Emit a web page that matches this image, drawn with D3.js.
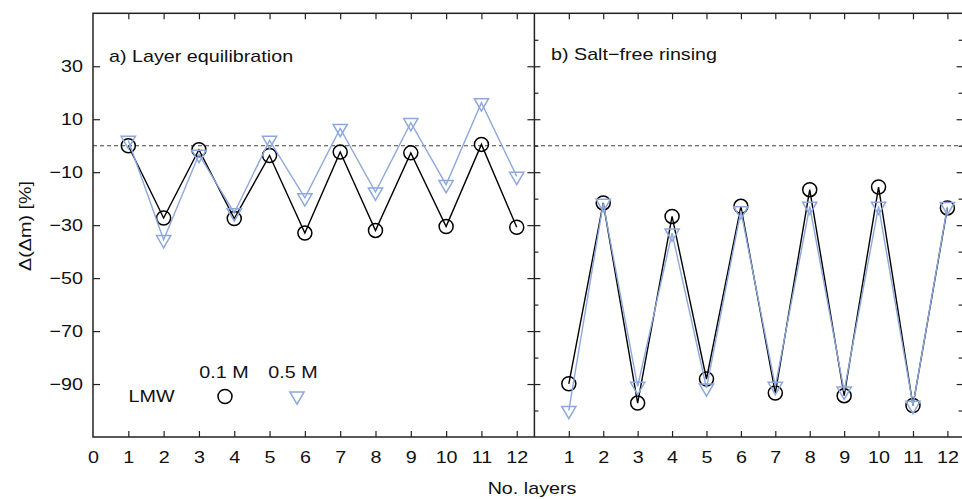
<!DOCTYPE html>
<html>
<head>
<meta charset="utf-8">
<script src="https://cdn.jsdelivr.net/npm/d3@7"></script>
<style>
  html, body { margin: 0; padding: 0; background: #fff; }
  svg { display: block; }
  text { font-family: "Liberation Sans", Arial, Helvetica, sans-serif; fill: #111; }
</style>
</head>
<body>
<svg id="chart" width="962" height="499"></svg>
<script>
// Layer number on the x axis of both panels
const layers = [1, 2, 3, 4, 5, 6, 7, 8, 9, 10, 11, 12];

// a) Layer equilibration, change of mass step in %
const equil01M = [0, -27.3, -1.5, -27.5, -3.7, -33, -2.4, -32, -2.7, -30.5, 0.5, -30.8];
const equil05M = [2, -35.5, -3.3, -25.4, 2, -19.7, 6.5, -17.5, 8.7, -14.7, 16.2, -11.6];

// b) Salt-free rinsing, change of mass step in %
const rinse01M = [-89.9, -21.6, -97.2, -26.7, -88.1, -22.9, -93.4, -16.6, -94.4, -15.6, -98.1, -23.5];
const rinse05M = [-100, -21.8, -90.9, -33, -91.5, -24.6, -90.9, -22.9, -92.7, -22.9, -98.1, -23];

// Axis ticks and labels
const xTicksLeft = [0, 1, 2, 3, 4, 5, 6, 7, 8, 9, 10, 11, 12];
const xTicksRight = [1, 2, 3, 4, 5, 6, 7, 8, 9, 10, 11, 12];
const yMajor = [30, 10, -10, -30, -50, -70, -90];
const yMinor = [40, 20, 0, -20, -40, -60, -80, -100];

const panelTitles = ["a) Layer equilibration", "b) Salt\u2212free rinsing"];
const seriesNames = ["0.1 M", "0.5 M"];

const BLACK = "#000";
const BLUE = "#8ea8dc";
const FS = 17;       // font size
const SX = 1.16;     // horizontal text stretch

const svg = d3.select("#chart");

const plotTop = 13.3, plotBottom = 437, xl0 = 93, xDiv = 534.4, xr1 = 964.6;
const xL = d3.scaleLinear().domain([0, 12.5]).range([xl0, xDiv]);
const xR = d3.scaleLinear().domain([0, 12.5]).range([xDiv, xr1]);
const y = d3.scaleLinear().domain([-110, 50]).range([plotBottom, plotTop]);

function stretchText(sel) {
  sel.each(function () {
    const t = d3.select(this);
    const x = +t.attr("x") || 0;
    t.attr("x", x / SX).attr("transform", `scale(${SX},1)`);
  });
}

function styleAxis(g) {
  g.select(".domain").remove();
  g.selectAll(".tick line").attr("stroke", "#222").attr("stroke-width", 1.2);
  g.selectAll(".tick text").attr("font-size", FS).attr("fill", "#111")
    .attr("font-family", "Liberation Sans, Arial, sans-serif");
}

// zero reference line
svg.append("line")
  .attr("x1", xl0).attr("x2", xr1)
  .attr("y1", y(0)).attr("y2", y(0))
  .attr("stroke", "#444").attr("stroke-width", 1.1)
  .attr("stroke-dasharray", "4,3");

// ---- axes, left panel ----
const axL = svg.append("g").attr("transform", `translate(0,${plotBottom})`)
  .call(d3.axisBottom(xL).tickValues(xTicksLeft).tickSizeInner(-6).tickSizeOuter(0).tickPadding(14));
styleAxis(axL);
axL.selectAll(".tick").filter(d => d === 0).select("line").remove();
stretchText(axL.selectAll(".tick text"));

const axLt = svg.append("g").attr("transform", `translate(0,${plotTop})`)
  .call(d3.axisTop(xL).tickValues(layers).tickSizeInner(-6).tickSizeOuter(0).tickFormat(""));
styleAxis(axLt);

const ayL = svg.append("g").attr("transform", `translate(${xl0},0)`)
  .call(d3.axisLeft(y).tickValues(yMajor).tickSizeInner(-7).tickSizeOuter(0).tickPadding(10)
    .tickFormat(d => d3.format("")(d).replace("-", "\u2212")));
styleAxis(ayL);
stretchText(ayL.selectAll(".tick text"));

const ayLr = svg.append("g").attr("transform", `translate(${xDiv},0)`)
  .call(d3.axisRight(y).tickValues(yMajor).tickSizeInner(-7).tickSizeOuter(0).tickFormat(""));
styleAxis(ayLr);

// ---- axes, right panel ----
const axR = svg.append("g").attr("transform", `translate(0,${plotBottom})`)
  .call(d3.axisBottom(xR).tickValues(xTicksRight).tickSizeInner(-6).tickSizeOuter(0).tickPadding(14));
styleAxis(axR);
stretchText(axR.selectAll(".tick text"));

const axRt = svg.append("g").attr("transform", `translate(0,${plotTop})`)
  .call(d3.axisTop(xR).tickValues(layers).tickSizeInner(-6).tickSizeOuter(0).tickFormat(""));
styleAxis(axRt);

[[yMajor, 6], [yMinor, 4]].forEach(([vals, len]) => {
  const a = svg.append("g").attr("transform", `translate(${xDiv},0)`)
    .call(d3.axisLeft(y).tickValues(vals).tickSizeInner(-len).tickSizeOuter(0).tickFormat(""));
  styleAxis(a);
  const b = svg.append("g").attr("transform", `translate(${xr1},0)`)
    .call(d3.axisRight(y).tickValues(vals).tickSizeInner(-(len + 2)).tickSizeOuter(0).tickFormat(""));
  styleAxis(b);
});

// frames
svg.append("rect").attr("x", xl0).attr("y", plotTop).attr("width", xr1 - xl0).attr("height", plotBottom - plotTop)
  .attr("fill", "none").attr("stroke", "#222").attr("stroke-width", 1.5);
svg.append("line").attr("x1", xDiv).attr("x2", xDiv).attr("y1", plotTop).attr("y2", plotBottom)
  .attr("stroke", "#222").attr("stroke-width", 1.5);

// ---- data ----
const triPath = d3.symbol().type(d3.symbolTriangle).size(88)();

function drawSeries(xs, vals, color, kind) {
  const pts = layers.map((l, i) => [xs(l), y(vals[i])]);
  svg.append("path")
    .attr("d", d3.line()(pts))
    .attr("fill", "none").attr("stroke", color).attr("stroke-width", 1.4);
  const g = svg.append("g");
  pts.forEach(([px, py]) => {
    if (kind === "circle") {
      g.append("circle").attr("cx", px).attr("cy", py).attr("r", 7)
        .attr("fill", "none").attr("stroke", color).attr("stroke-width", 1.5);
    } else {
      g.append("path").attr("d", triPath)
        .attr("transform", `translate(${px},${py}) rotate(180)`)
        .attr("fill", "none").attr("stroke", color).attr("stroke-width", 1.5);
    }
  });
}

drawSeries(xL, equil01M, BLACK, "circle");
drawSeries(xL, equil05M, BLUE, "triangle");
drawSeries(xR, rinse01M, BLACK, "circle");
drawSeries(xR, rinse05M, BLUE, "triangle");

// ---- texts ----
function label(txt, x, yy, anchor, rot) {
  svg.append("text")
    .attr("transform", `translate(${x},${yy}) rotate(${rot || 0}) scale(${SX},1)`)
    .attr("text-anchor", anchor || "start")
    .attr("font-size", FS)
    .text(txt);
}

label(panelTitles[0], 109, 61.5);
label(panelTitles[1], 551, 59.5);
label("No. layers", 532, 494, "middle");
label("\u0394(\u0394m) [%]", 31, 226, "middle", -90);

// legend
label("LMW", 151.5, 401.5, "middle");
label(seriesNames[0], 224, 378, "middle");
label(seriesNames[1], 293, 378, "middle");
svg.append("circle").attr("cx", 225).attr("cy", 396.5).attr("r", 7)
  .attr("fill", "none").attr("stroke", BLACK).attr("stroke-width", 1.5);
svg.append("path").attr("d", triPath)
  .attr("transform", `translate(297,396) rotate(180)`)
  .attr("fill", "none").attr("stroke", BLUE).attr("stroke-width", 1.5);
</script>
</body>
</html>
